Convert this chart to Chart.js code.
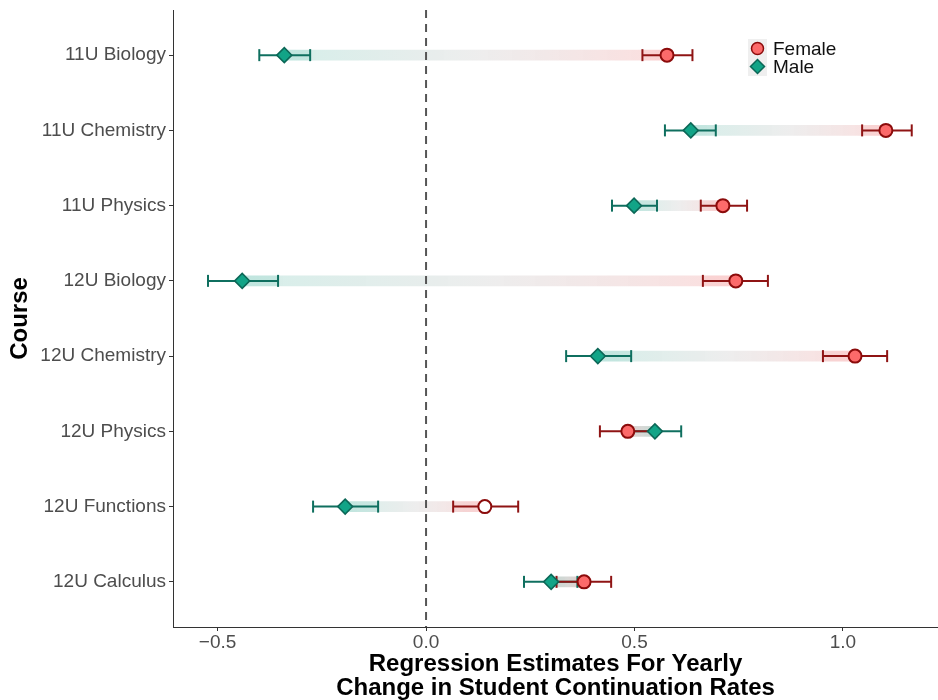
<!DOCTYPE html>
<html>
<head>
<meta charset="utf-8">
<script src="https://cdn.jsdelivr.net/npm/chart.js@4.4.1/dist/chart.umd.min.js"></script>
<style>
  html, body { margin: 0; padding: 0; background: #fff; overflow: hidden; }
  canvas { display: block; }
</style>
</head>
<body>
<canvas id="chart" width="938" height="700"></canvas>
<script>
// Courses, top to bottom
const courses = ['11U Biology', '11U Chemistry', '11U Physics', '12U Biology',
                 '12U Chemistry', '12U Physics', '12U Functions', '12U Calculus'];

// Male estimates and CI
const maleEst = [-0.340, 0.635, 0.499, -0.441, 0.412, 0.549, -0.194, 0.300];
const maleLo  = [-0.400, 0.573, 0.446, -0.523, 0.336, 0.490, -0.271, 0.235];
const maleHi  = [-0.278, 0.695, 0.554, -0.355, 0.492, 0.612, -0.115, 0.363];

// Female estimates and CI
const femaleEst = [0.578, 1.103, 0.712, 0.743, 1.029, 0.484, 0.141, 0.379];
const femaleLo  = [0.519, 1.046, 0.659, 0.664, 0.952, 0.417, 0.065, 0.313];
const femaleHi  = [0.639, 1.165, 0.770, 0.820, 1.106, 0.552, 0.221, 0.444];
// hollow marker where the female estimate is flagged
const femaleHollow = [false, false, false, false, false, false, true, false];

const xTicks = [-0.5, 0, 0.5, 1.0];
const xMin = -0.607, xMax = 1.228;
const yMin = -0.6, yMax = courses.length - 1 + 0.6;

const TEAL = '#12a487', TEAL_DARK = '#0c6757', TEAL_BAR = '#0f6f5f';
const RED = '#fc6a6a', RED_DARK = '#8b0b0b', RED_BAR = '#8f1414';
const FONT = "'Liberation Sans', Arial, sans-serif";

function bandGradient(ctx) {
    const chart = ctx.chart;
    const xs = chart.scales.x;
    if (ctx.type !== 'data' || !chart.chartArea || !xs) return 'rgba(180,180,180,0.2)';
    const i = ctx.dataIndex;
    const a = xs.getPixelForValue(maleEst[i]);
    const b = xs.getPixelForValue(femaleEst[i]);
    const g = chart.ctx.createLinearGradient(a, 0, b, 0);
    g.addColorStop(0, 'rgba(20,160,133,0.18)');
    g.addColorStop(0.5, 'rgba(150,150,150,0.17)');
    g.addColorStop(1, 'rgba(240,90,90,0.2)');
    return g;
}

const datasets = [];

// gradient band from male to female estimate
datasets.push({
    type: 'bar',
    indexAxis: 'y',
    data: courses.map((c, i) => ({ y: i, x: [maleEst[i], femaleEst[i]] })),
    backgroundColor: bandGradient,
    borderWidth: 0,
    barThickness: 10,
    grouped: false,
    order: 10
});
// stronger band inside the inner CI halves
datasets.push({
    type: 'bar',
    indexAxis: 'y',
    data: courses.map((c, i) => ({ y: i, x: [maleEst[i], femaleEst[i] > maleEst[i] ? maleHi[i] : maleLo[i]] })),
    backgroundColor: 'rgba(20,160,133,0.1)',
    borderWidth: 0,
    barThickness: 10,
    grouped: false,
    order: 9
});
datasets.push({
    type: 'bar',
    indexAxis: 'y',
    data: courses.map((c, i) => ({ y: i, x: [femaleEst[i], femaleEst[i] > maleEst[i] ? femaleLo[i] : femaleHi[i]] })),
    backgroundColor: 'rgba(240,90,90,0.1)',
    borderWidth: 0,
    barThickness: 10,
    grouped: false,
    order: 9
});

// zero reference line
datasets.push({
    type: 'line',
    data: [{ x: 0, y: yMin }, { x: 0, y: yMax }],
    borderColor: '#555555',
    borderWidth: 2,
    borderDash: [8, 6],
    pointRadius: 0,
    order: 8
});

// error bars
courses.forEach((c, i) => {
    datasets.push({
        type: 'line',
        data: [{ x: maleLo[i], y: i }, { x: maleHi[i], y: i }],
        borderColor: TEAL_BAR,
        borderWidth: 2,
        pointStyle: 'line',
        rotation: 90,
        pointRadius: 6,
        pointBorderColor: TEAL_BAR,
        pointBorderWidth: 2,
        order: 5
    });
    datasets.push({
        type: 'line',
        data: [{ x: femaleLo[i], y: i }, { x: femaleHi[i], y: i }],
        borderColor: RED_BAR,
        borderWidth: 2,
        pointStyle: 'line',
        rotation: 90,
        pointRadius: 6,
        pointBorderColor: RED_BAR,
        pointBorderWidth: 2,
        order: 4
    });
});

// points
datasets.push({
    type: 'line',
    label: 'Male',
    data: courses.map((c, i) => ({ x: maleEst[i], y: i })),
    showLine: false,
    pointStyle: 'rectRot',
    pointRadius: 7.5,
    pointBackgroundColor: TEAL,
    pointBorderColor: TEAL_DARK,
    pointBorderWidth: 1.5,
    order: 1
});
datasets.push({
    type: 'line',
    label: 'Female',
    data: courses.map((c, i) => ({ x: femaleEst[i], y: i })),
    showLine: false,
    pointStyle: 'circle',
    pointRadius: 6.5,
    pointBackgroundColor: femaleHollow.map(h => h ? '#ffffff' : RED),
    pointBorderColor: RED_DARK,
    pointBorderWidth: 2,
    order: 0
});

// legend drawn inside the plot area
const legendPlugin = {
    id: 'insideLegend',
    afterDraw(chart) {
        const ctx = chart.ctx;
        const items = [
            { label: 'Female', style: 'circle', r: 6.5, fill: RED, stroke: RED_DARK },
            { label: 'Male', style: 'rectRot', r: 7.5, fill: TEAL, stroke: TEAL_DARK }
        ];
        const x0 = 748, y0 = 39, key = 18;
        ctx.save();
        ctx.fillStyle = '#efefef';
        ctx.fillRect(x0, y0, key + 1, key * 2 + 1);
        items.forEach((it, k) => {
            const cx = x0 + key / 2 + 0.5, cy = y0 + key / 2 + k * key + 0.5;
            ctx.fillStyle = it.fill;
            ctx.strokeStyle = it.stroke;
            ctx.lineWidth = 1.5;
            Chart.helpers.drawPoint(ctx, { pointStyle: it.style, radius: it.r - 0.5, borderWidth: 1.5 }, cx, cy);
            ctx.fillStyle = '#111';
            ctx.font = '19px ' + FONT;
            ctx.textBaseline = 'middle';
            ctx.textAlign = 'left';
            ctx.fillText(it.label, x0 + key + 7, cy + 1);
        });
        ctx.restore();
    }
};

new Chart(document.getElementById('chart'), {
    type: 'bar',
    data: { datasets },
    plugins: [legendPlugin],
    options: {
        responsive: false,
        animation: false,
        events: [],
        layout: { autoPadding: false, padding: { top: 10, right: 0, left: 0, bottom: 0 } },
        plugins: {
            legend: { display: false },
            tooltip: { enabled: false }
        },
        scales: {
            x: {
                type: 'linear',
                min: xMin,
                max: xMax,
                offset: false,
                afterBuildTicks: (scale) => { scale.ticks = xTicks.map(v => ({ value: v })); },
                afterFit: (scale) => {
                    scale.height = 73;
                    scale.paddingLeft = 0;
                    scale.paddingRight = 0;
                },
                grid: { offset: false, drawOnChartArea: false, drawTicks: true, tickLength: 4, color: '#333333' },
                border: { display: true, color: '#333333', width: 1 },
                ticks: {
                    padding: 0,
                    color: '#4d4d4d',
                    font: { family: FONT, size: 19 },
                    callback: (v) => (v < 0 ? '\u2212' : '') + Math.abs(v).toFixed(1)
                },
                title: {
                    display: true,
                    text: ['Regression Estimates For Yearly', 'Change in Student Continuation Rates'],
                    color: '#000',
                    font: { family: FONT, size: 24, weight: 'bold', lineHeight: 1.0 },
                    padding: { top: 0, bottom: 0 }
                }
            },
            y: {
                type: 'linear',
                reverse: true,
                min: yMin,
                max: yMax,
                offset: false,
                afterBuildTicks: (scale) => { scale.ticks = courses.map((c, i) => ({ value: i })); },
                afterFit: (scale) => {
                    scale.width = 173;
                    scale.paddingTop = 0;
                    scale.paddingBottom = 0;
                },
                grid: { offset: false, drawOnChartArea: false, drawTicks: true, tickLength: 4, color: '#333333' },
                border: { display: true, color: '#333333', width: 1 },
                ticks: {
                    padding: 3,
                    color: '#4d4d4d',
                    font: { family: FONT, size: 19 },
                    callback: (v) => courses[v]
                },
                title: {
                    display: true,
                    text: 'Course',
                    color: '#000',
                    font: { family: FONT, size: 24, weight: 'bold', lineHeight: 1.0 },
                    padding: { top: 8, bottom: 0 }
                }
            }
        }
    }
});
</script>
</body>
</html>
